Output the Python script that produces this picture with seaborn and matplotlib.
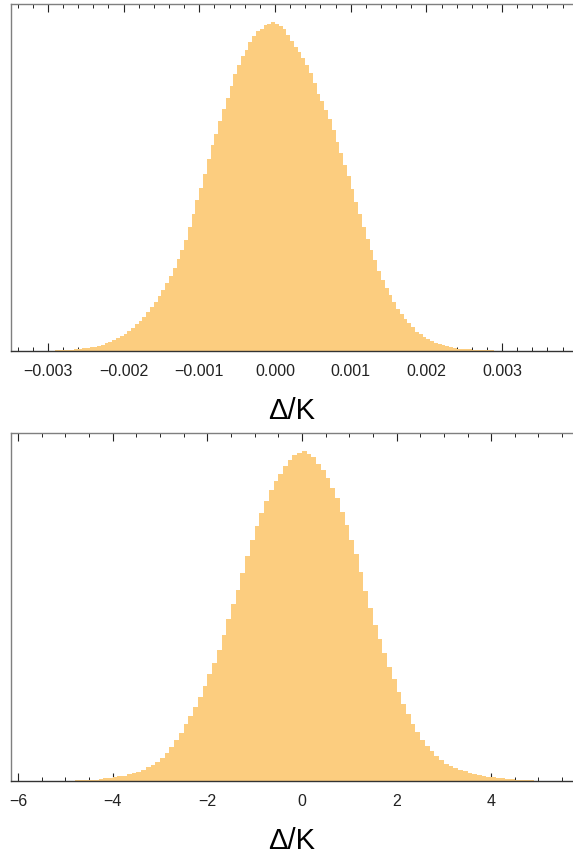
import numpy as np
import pandas as pd
import seaborn as sns
import matplotlib.pyplot as plt
from matplotlib.ticker import MultipleLocator, FuncFormatter

# top panel: bin heights, bins of 0.00005 starting at -0.0032
top_start = -0.0032
top_width = 0.00005
top_heights = [
    0, 0.2, 0.2, 0.3, 0.4, 0.5, 0.6, 0.8, 1.0, 1.2,
    1.5, 1.8, 2.2, 2.7, 3.2, 3.8, 4.5, 5.3, 6.4, 7.6,
    9.1, 10.8, 12.8, 15.2, 17.5, 20.5, 23.5, 27, 30.5, 34.5,
    39, 44, 49.5, 55, 61, 68, 75.5, 83, 92, 101,
    111, 124, 137, 151, 163, 177, 192, 206, 217, 230,
    242, 253, 265, 277, 286, 295, 301, 309, 315, 320,
    322, 326, 327, 329, 327, 325, 322, 316, 310, 304,
    299, 293, 286, 278, 268, 257, 250, 241, 232, 221,
    209, 198, 186, 175, 162, 149, 137, 124, 112, 101,
    91, 80, 71, 63, 56, 49, 42, 37, 32.5, 28.5,
    24.5, 19.5, 17, 14.5, 12, 10, 8, 6.8, 5.9, 4.8,
    3.6, 2.9, 2.3, 2.0, 1.8, 1.6, 1.4, 1.2, 1.0, 0.9,
    0.8, 0.7, 0.5, 0.4, 0.3, 0.25, 0.2, 0.15, 0.1, 0.1,
    0.05, 0,
]

# bottom panel: bins of 0.1 starting at -5.6
bot_start = -5.6
bot_width = 0.1
bot_heights = [
    0.1, 0.1, 0.15, 0.2, 0.25, 0.3, 0.35, 0.45, 0.55, 0.7,
    0.85, 1.0, 1.3, 1.8, 2.5, 3.2, 4.0, 4.6, 5.4, 6.5,
    7.6, 9.0, 11, 13.5, 16, 19, 22.5, 28, 34, 41,
    48, 57, 65, 74, 84, 95, 107, 118, 131, 146,
    162, 177, 191, 207, 224, 240, 254, 267, 279, 290,
    299, 306, 314, 320, 325, 327, 329, 326, 323, 316,
    310, 302, 292, 282, 268, 255, 240, 226, 208, 190,
    173, 156, 142, 128, 114, 102, 89, 77, 67, 57,
    49, 41, 35, 30, 25, 21, 17, 14.5, 12.5, 11,
    9.8, 8, 6.8, 5.8, 5, 4.2, 3.6, 3.0, 2.5, 2.0,
    1.6, 1.3, 1.0, 0.8, 0.6, 0.45, 0.35, 0.25, 0.2, 0.15, 0.1,
]

xlabel = "Δ/K"
fill = "#fccd7f"

sns.set_style("ticks")
plt.rcParams["font.family"] = ["Liberation Sans", "DejaVu Sans"]

fig = plt.figure(figsize=(5.73, 8.56), dpi=100)
ax1 = fig.add_axes([11 / 573, 505 / 856, 1 - 11 / 573, 347 / 856])
ax2 = fig.add_axes([11 / 573, 75 / 856, 1 - 11 / 573, 348 / 856])


def draw(ax, start, width, heights, xlim, major, minor, fmt):
    n = len(heights)
    edges = start + width * np.arange(n + 1)
    df = pd.DataFrame({"x": edges[:-1] + width / 2, "w": heights})
    sns.histplot(data=df, x="x", weights="w", bins=list(edges), ax=ax,
                 element="step", fill=True, color=fill, alpha=1, linewidth=0)
    ax.set_xlim(*xlim)
    ax.set_ylim(0, max(heights) * 1.055)
    ax.set_yticks([])
    ax.set_ylabel("")
    ax.xaxis.set_major_locator(MultipleLocator(major))
    ax.xaxis.set_minor_locator(MultipleLocator(minor))
    ax.xaxis.set_major_formatter(
        FuncFormatter(lambda v, p: (fmt % (0 if abs(v) < 1e-12 else v)).replace("-", "\u2212")))
    ax.tick_params(axis="x", which="both", direction="in", top=True, bottom=True,
                   colors="#222222", labelsize=11.5, pad=9)
    ax.tick_params(axis="x", which="major", length=5.5, width=0.8)
    ax.tick_params(axis="x", which="minor", length=3.2, width=0.7)
    ax.spines["right"].set_visible(False)
    ax.spines["left"].set_color("#7f7f7f")
    ax.spines["top"].set_color("#7f7f7f")
    ax.spines["bottom"].set_color("#333333")
    for s in ax.spines.values():
        s.set_linewidth(1.0)
    ax.set_xlabel(xlabel, fontsize=21, labelpad=13, color="black")


draw(ax1, top_start, top_width, top_heights, (-0.003487, 0.003937), 0.001, 0.0002, "%.3f")
draw(ax2, bot_start, bot_width, bot_heights, (-6.15, 5.73), 2, 0.5, "%d")

fig.savefig("out.png", dpi=100)
